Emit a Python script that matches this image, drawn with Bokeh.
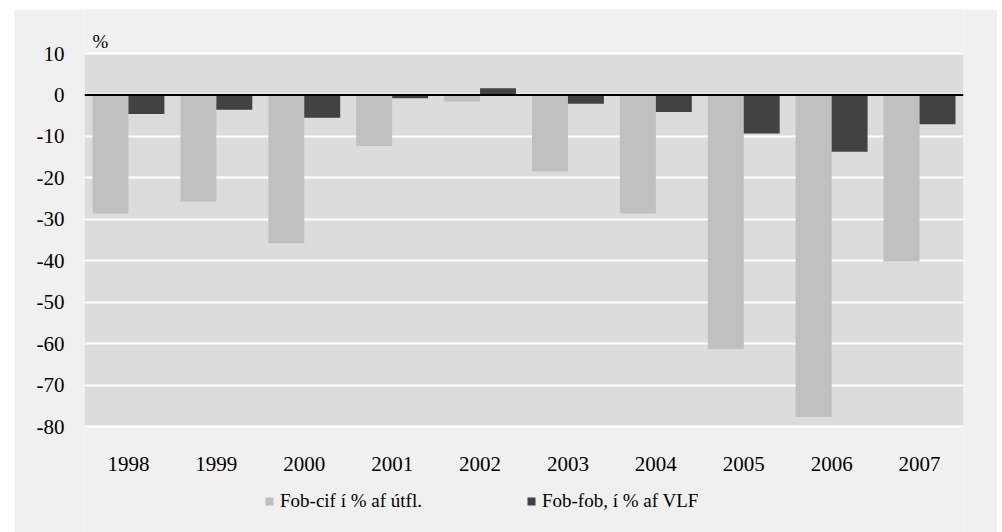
from bokeh.plotting import figure
from bokeh.models import (ColumnDataSource, Range1d, FactorRange, FixedTicker, Span,
                          Legend, LegendItem, BoxAnnotation)
from bokeh.transform import dodge
from bokeh.embed import file_html
from bokeh.resources import INLINE

years = ["1998", "1999", "2000", "2001", "2002", "2003", "2004", "2005", "2006", "2007"]
fob_cif = [-28.6, -25.8, -35.8, -12.3, -1.6, -18.5, -28.6, -61.3, -77.7, -40.2]
fob_fob = [-4.6, -3.6, -5.5, -0.8, 1.6, -2.1, -4.1, -9.3, -13.7, -7.1]
y_ticks = [10, 0, -10, -20, -30, -40, -50, -60, -70, -80]
unit_label = "%"
series_names = ["Fob-cif í % af útfl.", "Fob-fob, í % af VLF"]

FONT = "Liberation Serif"
Y_MAX, Y_MIN = max(y_ticks), min(y_ticks)

# pixel layout: plot area 373px tall for 90 units, 44px above it, 106px below it
k = 373 / (Y_MAX - Y_MIN)
y_top = Y_MAX + 44 / k
y_bot = Y_MIN - 106 / k

src = ColumnDataSource(dict(year=years, a=fob_cif, b=fob_fob))

p = figure(x_range=FactorRange(*years), y_range=Range1d(y_bot, y_top),
           width=983, height=523, output_backend="svg", toolbar_location=None,
           min_border_left=70, min_border_right=34, min_border_top=0, min_border_bottom=0,
           border_fill_color="#f0f0f0", background_fill_color="#f0f0f0",
           outline_line_color=None)
p.margin = (9, 0, 0, 14)

# plot area background
p.add_layout(BoxAnnotation(bottom=Y_MIN, top=Y_MAX, fill_color="#dcdcdc", fill_alpha=1,
                           line_color=None, level="image"))

p.xgrid.grid_line_color = None
p.ygrid.grid_line_color = "white"
p.ygrid.grid_line_width = 2
p.ygrid.level = "underlay"
p.yaxis.ticker = FixedTicker(ticks=y_ticks)
p.ygrid.ticker = FixedTicker(ticks=y_ticks)
p.yaxis.major_label_overrides = {t: str(t) for t in y_ticks}

r1 = p.vbar(x=dodge("year", -0.2045, range=p.x_range), top="a", bottom=0, width=0.409,
            source=src, fill_color="#c0c0c0", line_color=None)
r2 = p.vbar(x=dodge("year", 0.2045, range=p.x_range), top="b", bottom=0, width=0.409,
            source=src, fill_color="#424242", line_color=None)

p.add_layout(Span(location=0, dimension="width", line_color="black", line_width=2))

ya = p.yaxis[0]
ya.axis_line_color = None
ya.major_tick_line_color = None
ya.minor_tick_line_color = None
ya.major_label_text_font = FONT
ya.major_label_text_font_size = "21px"
ya.major_label_text_color = "black"
ya.major_label_standoff = 14
p.xaxis.visible = False

# category labels under the plot area
lab = ColumnDataSource(dict(x=years, y=[Y_MIN] * len(years), t=years))
tr = p.text(x="x", y="y", text="t", source=lab, text_align="center",
            text_baseline="alphabetic", y_offset=37, text_font_size="21px",
            text_color="black")
tr.glyph.text_font = FONT

ur = p.text(x=[years[0]], y=[Y_MAX], text=[unit_label], text_align="left",
            text_baseline="alphabetic", x_offset=-36, y_offset=-12,
            text_font_size="19px", text_color="black")
ur.glyph.text_font = FONT

legend = Legend(items=[LegendItem(label=series_names[0], renderers=[r1]),
                       LegendItem(label=series_names[1], renderers=[r2])],
                orientation="horizontal", location=(180, 20),
                background_fill_alpha=0, border_line_color=None,
                glyph_width=10, glyph_height=10, label_standoff=6, spacing=104,
                padding=0, margin=0,
                label_text_font=FONT, label_text_font_size="19px",
                label_text_color="black")
p.add_layout(legend, "center")

open("out.html", "w").write(file_html(p, INLINE))
